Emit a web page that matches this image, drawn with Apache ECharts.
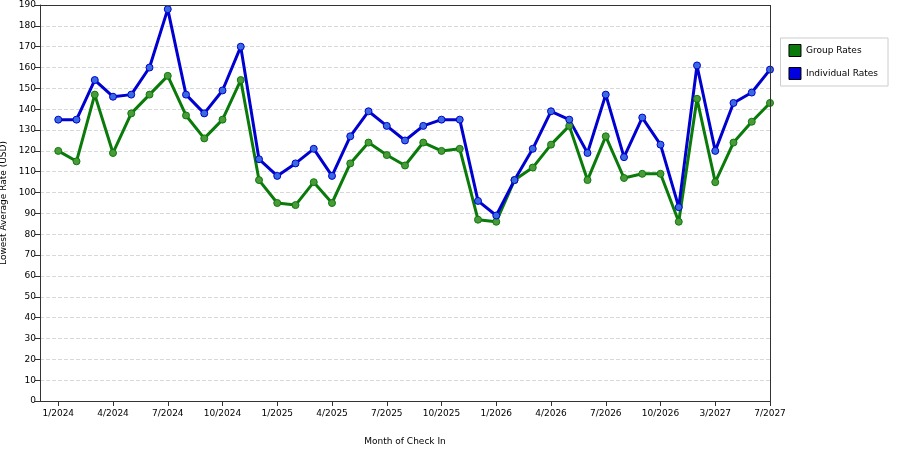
<!DOCTYPE html><html><head><meta charset="utf-8"><script src="https://cdn.jsdelivr.net/npm/echarts@6/dist/echarts.min.js"></script></head><body style="margin:0"><div id="c" style="width:900px;height:450px"></div><script>
const months=[];for(let y=2024;y<=2027;y++)for(let m=1;m<=12;m++){if(y===2027&&m>7)break;months.push(m+'/'+y);}
const categories=[''].concat(months.slice(0,40));
const groupRates=[120,115,147,119,138,147,156,137,126,135,154,106,95,94,105,95,114,124,118,113,124,120,121,87,86,106,112,123,132,106,127,107,109,109,86,145,105,124,134,143];
const individualRates=[135,135,154,146,147,160,188,147,138,149,170,116,108,114,121,108,127,139,132,125,132,135,135,96,89,106,121,139,135,119,147,117,136,123,93,161,120,143,148,159];
const tickLabels=['1/2024','4/2024','7/2024','10/2024','1/2025','4/2025','7/2025','10/2025','1/2026','4/2026','7/2026','10/2026','3/2027','7/2027'];
const tickIdx=[1,4,7,10,13,16,19,22,25,28,31,34,37,40];
const cats=categories.map((c,i)=>{const k=tickIdx.indexOf(i);return k>=0?tickLabels[k]:'';});
const ch=echarts.init(document.getElementById('c'));
const mk=(name,data,color,bc)=>({name,type:'line',data:[null].concat(data),symbol:'circle',symbolSize:7,itemStyle:{color:bc,borderColor:color,borderWidth:1},lineStyle:{color,width:3},color});
ch.setOption({animation:false,textStyle:{fontFamily:'DejaVu Sans'},
grid:{left:40,right:130,top:5,bottom:49,containLabel:false,outerBoundsMode:'none'},
legend:{orient:'vertical',right:12,top:38,itemWidth:12,itemHeight:12,icon:'rect',borderColor:'#ccc',borderWidth:1,padding:[6,10,6,8],itemGap:10,textStyle:{fontSize:9,color:'#000'},data:[{name:'Group Rates',itemStyle:{color:'#0a7a0a',borderColor:'#000',borderWidth:1}},{name:'Individual Rates',itemStyle:{color:'#0000e0',borderColor:'#000',borderWidth:1}}]},
xAxis:{type:'category',boundaryGap:false,data:cats,name:'Month of Check In',nameLocation:'middle',nameGap:36,nameTextStyle:{fontSize:9,color:'#000'},axisLine:{lineStyle:{color:'#333'}},axisTick:{interval:(i)=>tickIdx.includes(i),lineStyle:{color:'#333'}},axisLabel:{interval:(i)=>tickIdx.includes(i),fontSize:9,color:'#000'},splitLine:{show:false}},
yAxis:{type:'value',min:0,max:190,interval:10,name:'Lowest Average Rate (USD)',nameLocation:'middle',nameGap:24,nameTextStyle:{fontSize:9,color:'#000'},axisLine:{show:true,lineStyle:{color:'#333'}},axisTick:{show:true,lineStyle:{color:'#333'}},axisLabel:{fontSize:9,color:'#000',margin:4},splitLine:{lineStyle:{type:'dashed',color:'#d8d8d8'}}},
series:[mk('Group Rates',groupRates,'#0a7a0a','#4a9a3a'),mk('Individual Rates',individualRates,'#0000d0','#3a6ae0'),
{type:'line',data:[],markLine:{silent:true,symbol:'none',label:{show:false},lineStyle:{color:'#333',type:'solid',width:1},data:[{yAxis:190},{xAxis:40}]}}]});
</script></body></html>
